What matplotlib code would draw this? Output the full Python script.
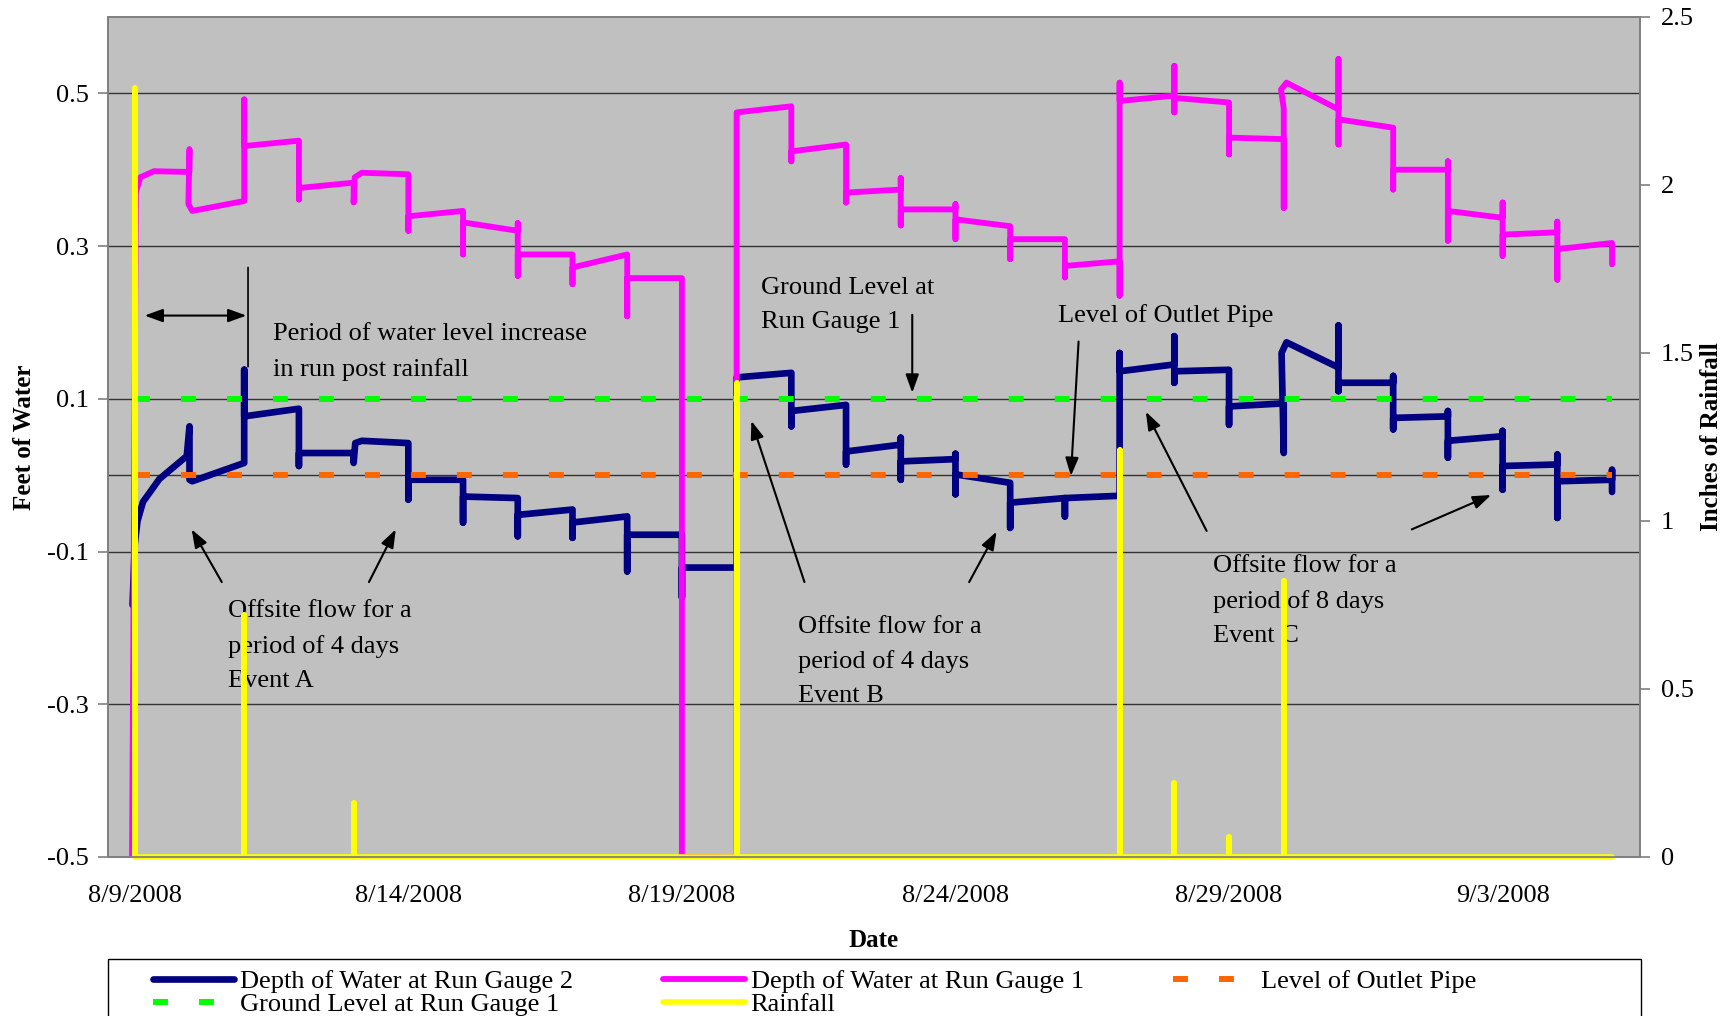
import numpy as np
import matplotlib
matplotlib.use('Agg')
from matplotlib import pyplot as plt
from matplotlib.patches import Rectangle

plt.rcParams['font.family'] = ['Liberation Serif', 'DejaVu Serif']
plt.rcParams['font.size'] = 19

# x values are days after 8/9/2008
# Depth of Water at Run Gauge 2 [ft]
g2_day = [-0.04, 0.0, 0.05, 0.15, 0.45, 0.95, 1.0, 1.0, 1.05, 2.0, 2.0, 2.0,
          3.0, 3.0, 3.0, 4.0, 4.0, 4.03, 4.15, 5.0, 5.0, 5.0, 6.0, 6.0, 6.0,
          7.0, 7.0, 7.0, 8.0, 8.0, 8.0, 9.0, 9.0, 9.0, 10.0, 10.0, 10.0,
          11.0, 11.0, 12.0, 12.0, 12.0, 13.0, 13.0, 13.0, 14.0, 14.0, 14.0, 14.0,
          15.0, 15.0, 15.0, 15.0, 16.0, 16.0, 16.0, 17.0, 17.0, 17.0,
          18.0, 18.0, 18.0, 19.0, 19.0, 19.0, 19.0, 20.0, 20.0, 20.0,
          21.0, 21.0, 20.96, 21.05, 22.0, 22.0, 22.0, 22.0, 23.0, 23.0, 23.0, 23.0,
          24.0, 24.0, 24.0, 24.0, 25.0, 25.0, 25.0, 25.0, 26.0, 26.0, 26.0, 26.0,
          27.0, 27.0, 27.0]
g2_ft = [-0.17, -0.09, -0.06, -0.035, -0.005, 0.025, 0.064, -0.006, -0.008, 0.016, 0.138, 0.077,
         0.087, 0.012, 0.029, 0.029, 0.016, 0.042, 0.045, 0.042, -0.032, -0.006, -0.006, -0.062, -0.028,
         -0.03, -0.08, -0.052, -0.045, -0.082, -0.062, -0.054, -0.126, -0.078, -0.078, -0.16, -0.121,
         -0.121, 0.128, 0.134, 0.064, 0.084, 0.092, 0.014, 0.031, 0.04, 0.049, -0.006, 0.018,
         0.021, 0.028, -0.025, 0.001, -0.01, -0.069, -0.036, -0.03, -0.054, -0.03,
         -0.027, 0.16, 0.136, 0.145, 0.182, 0.121, 0.136, 0.138, 0.066, 0.09,
         0.094, 0.029, 0.16, 0.174, 0.141, 0.196, 0.11, 0.121, 0.121, 0.13, 0.06, 0.075,
         0.077, 0.084, 0.023, 0.045, 0.051, 0.058, -0.019, 0.012, 0.014, 0.027, -0.056, -0.008,
         -0.006, 0.007, -0.022]

# Depth of Water at Run Gauge 1 [ft]
g1_day = [-0.05, 0.02, 0.10, 0.35, 1.0, 1.0, 0.98, 1.05, 2.0, 2.0, 2.0,
          3.0, 3.0, 3.0, 4.0, 4.0, 4.02, 4.15, 5.0, 5.0, 5.0, 6.0, 6.0, 6.0,
          7.0, 7.0, 7.0, 7.0, 8.0, 8.0, 8.0, 9.0, 9.0, 9.0, 10.0, 10.0, 11.0,
          11.0, 12.0, 12.0, 12.0, 13.0, 13.0, 13.0, 14.0, 14.0, 14.0, 14.0,
          15.0, 15.0, 15.0, 15.0, 16.0, 16.0, 16.0, 17.0, 17.0, 17.0,
          18.0, 18.0, 18.0, 18.0, 19.0, 19.0, 19.0, 19.0, 20.0, 20.0, 20.0,
          21.0, 21.0, 21.0, 20.95, 21.05, 22.0, 22.0, 22.0, 22.0, 23.0, 23.0, 23.0,
          24.0, 24.0, 24.0, 24.0, 25.0, 25.0, 25.0, 25.0, 26.0, 26.0, 26.0, 26.0,
          27.0, 27.0]
g1_ft = [-0.5, 0.37, 0.39, 0.398, 0.397, 0.427, 0.355, 0.346, 0.359, 0.492, 0.431,
         0.438, 0.361, 0.376, 0.383, 0.357, 0.39, 0.396, 0.394, 0.32, 0.339, 0.346, 0.289, 0.331,
         0.32, 0.33, 0.261, 0.289, 0.289, 0.25, 0.272, 0.289, 0.208, 0.258, 0.258, -0.5, -0.5,
         0.475, 0.483, 0.411, 0.424, 0.433, 0.357, 0.37, 0.374, 0.389, 0.327, 0.348,
         0.348, 0.355, 0.309, 0.335, 0.326, 0.283, 0.309, 0.309, 0.259, 0.274,
         0.28, 0.235, 0.514, 0.49, 0.497, 0.536, 0.475, 0.494, 0.488, 0.42, 0.442,
         0.44, 0.35, 0.48, 0.505, 0.514, 0.479, 0.545, 0.433, 0.466, 0.455, 0.374, 0.40,
         0.40, 0.411, 0.307, 0.346, 0.337, 0.357, 0.287, 0.315, 0.318, 0.332, 0.256, 0.296,
         0.304, 0.276]

# reference levels [ft]
outlet_day = [0, 27]
outlet_ft = [0.0, 0.0]
ground_day = [0, 27]
ground_ft = [0.1, 0.1]

# daily rainfall [in]
rain_day = list(range(28))
rain_in = [2.29, 0, 0.72, 0, 0.16, 0, 0, 0, 0, 0, 0, 1.41, 0, 0,
           0, 0, 0, 0, 1.21, 0.22, 0.06, 0.82, 0, 0, 0, 0, 0, 0]

date_ticks = [0, 5, 10, 15, 20, 25]
date_labels = ['8/9/2008', '8/14/2008', '8/19/2008', '8/24/2008', '8/29/2008', '9/3/2008']
ft_ticks = [-0.5, -0.3, -0.1, 0.1, 0.3, 0.5]
ft_labels = ['-0.5', '-0.3', '-0.1', '0.1', '0.3', '0.5']
in_ticks = [0, 0.5, 1, 1.5, 2, 2.5]
in_labels = ['0', '0.5', '1', '1.5', '2', '2.5']

fig = plt.figure(figsize=(17.33, 10.16), dpi=100)
ax = fig.add_axes([0.0623, 0.1565, 0.8840, 0.8268])
ax.set_facecolor('#C0C0C0')
ax.set_xlim(-0.49, 27.51)
ax.set_ylim(-0.5, 0.6)

solid = dict(solid_capstyle='round', solid_joinstyle='round')
l_g2, = ax.plot(g2_day, g2_ft, color='#000080', lw=4.8, zorder=3, **solid)
l_g1, = ax.plot(g1_day, g1_ft, color='#FF00FF', lw=4.2, zorder=3, **solid)
l_out, = ax.plot(outlet_day, outlet_ft, color='#FF6600', lw=4.3,
                 linestyle=(0, (2.5, 5.2)), dash_capstyle='butt', zorder=4)
l_gr, = ax.plot(ground_day, ground_ft, color='#00FF00', lw=4.3,
                linestyle=(0, (2.5, 5.2)), dash_capstyle='butt', zorder=4)

ax.set_yticks(ft_ticks)
ax.set_yticklabels(ft_labels)
ax.set_xticks(date_ticks)
ax.set_xticklabels(date_labels)
ax.tick_params(axis='x', length=0, pad=20.5)
ax.tick_params(axis='y', length=7, width=1.2, color='#808080', pad=7)
ax.grid(axis='y', color='#333333', lw=1.0)
ax.axhline(0, color='#333333', lw=1.0, zorder=0.6)
ax.set_axisbelow(True)
for s in ax.spines.values():
    s.set_color('#808080')
    s.set_linewidth(1.3)

ax.set_ylabel('Feet of Water', fontweight='bold', fontsize=18)
ax.yaxis.set_label_coords(-0.047, 0.5)
ax.set_xlabel('Date', fontweight='bold', fontsize=18)
ax.xaxis.set_label_coords(0.5, -0.086)

# rainfall on the secondary axis, drawn as spikes
ax2 = ax.twinx()
ax2.set_ylim(0, 2.5)
rx = np.repeat(rain_day, 3)
ry = np.column_stack([np.zeros(len(rain_in)), rain_in, np.zeros(len(rain_in))]).ravel()
l_rain, = ax2.plot(rx, ry, color='#FFFF00', lw=4.0, clip_on=False, **solid)
ax2.set_yticks(in_ticks)
ax2.set_yticklabels(in_labels)
ax2.tick_params(axis='y', length=7, width=1.2, color='#808080', pad=8)
for s in ax2.spines.values():
    s.set_color('#808080')
    s.set_linewidth(1.3)
ax2.set_ylabel('Inches of Rainfall', fontweight='bold', fontsize=18)
ax2.yaxis.set_label_coords(1.039, 0.5)

# annotations
ls = 1.71
arr = dict(arrowstyle='-|>,head_length=0.55,head_width=0.2', mutation_scale=20,
           lw=1.5, color='black', shrinkA=0, shrinkB=0)
ax.annotate('', xy=(2.04, 0.209), xytext=(0.18, 0.209),
            arrowprops=dict(arr, arrowstyle='<|-|>,head_length=0.55,head_width=0.2'))
ax.annotate('', xy=(2.07, 0.142), xytext=(2.07, 0.272),
            arrowprops=dict(arrowstyle='-', lw=1.2, color='black', shrinkA=0, shrinkB=0))
ax.text(2.52, 0.161, 'Period of water level increase\nin run post rainfall',
        ha='left', va='center', linespacing=ls)

ax.text(11.44, 0.223, 'Ground Level at\nRun Gauge 1', ha='left', va='center', linespacing=ls)
ax.annotate('', xy=(14.21, 0.108), xytext=(14.21, 0.21), arrowprops=arr)

ax.text(16.87, 0.209, 'Level of Outlet Pipe', ha='left', va='center')
ax.annotate('', xy=(17.11, -0.001), xytext=(17.25, 0.175), arrowprops=arr)

ax.text(1.71, -0.224, 'Offsite flow for a\nperiod of 4 days\nEvent A',
        ha='left', va='center', linespacing=ls)
ax.annotate('', xy=(1.04, -0.071), xytext=(1.59, -0.140), arrowprops=arr)
ax.annotate('', xy=(4.77, -0.071), xytext=(4.28, -0.140), arrowprops=arr)

ax.text(12.12, -0.244, 'Offsite flow for a\nperiod of 4 days\nEvent B',
        ha='left', va='center', linespacing=ls)
ax.annotate('', xy=(11.27, 0.071), xytext=(12.24, -0.140), arrowprops=arr)
ax.annotate('', xy=(15.75, -0.074), xytext=(15.25, -0.140), arrowprops=arr)

ax.text(19.70, -0.165, 'Offsite flow for a\nperiod of 8 days\nEvent C',
        ha='left', va='center', linespacing=ls)
ax.annotate('', xy=(18.48, 0.083), xytext=(19.59, -0.073), arrowprops=arr)
ax.annotate('', xy=(24.79, -0.026), xytext=(23.34, -0.071), arrowprops=arr)

# legend below the chart, box runs off the bottom edge
handles = [l_g2, l_gr, l_g1, l_rain, l_out]
labels = ['Depth of Water at Run Gauge 2', 'Ground Level at Run Gauge 1',
          'Depth of Water at Run Gauge 1', 'Rainfall', 'Level of Outlet Pipe']
fig.legend(handles, labels, loc='upper left', bbox_to_anchor=(0.088, 0.0458),
           ncol=3, frameon=False, handlelength=3.1, handletextpad=0.22,
           columnspacing=3.4, labelspacing=0.0, borderaxespad=0, borderpad=0,
           fontsize=19)
fig.patches.append(Rectangle((0.0623, -0.02), 0.8846, 0.0761, transform=fig.transFigure,
                             fill=False, edgecolor='black', lw=1.0))

fig.savefig('out.png', dpi=100)
